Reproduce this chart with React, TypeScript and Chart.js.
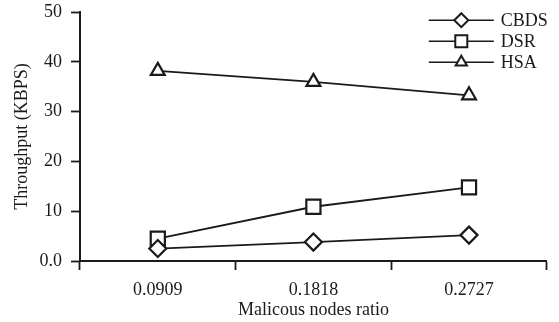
import React, { useEffect, useRef } from "react";
import { Chart, registerables } from "chart.js";
import { drawPoint } from "chart.js/helpers";

Chart.register(...registerables);

const categories = ["0.0909", "0.1818", "0.2727"];
const cbds = [2.5, 3.8, 5.2];
const dsr = [4.5, 10.9, 14.8];
const hsa = [38.2, 36.0, 33.3];
const seriesNames = ["CBDS", "DSR", "HSA"];
const yTicks = [0, 10, 20, 30, 40, 50];

const FONT = "'Liberation Serif', 'Times New Roman', serif";
const INK = "#1a1a1a";

const markerStyles: any[] = [
  { pointStyle: "rectRot", radius: 8.5 },
  { pointStyle: "rect", radius: 10 },
  { pointStyle: "triangle", radius: 8 },
];

const legendPlugin = {
  id: "lineLegend",
  afterDraw(chart: any) {
    const { ctx, chartArea } = chart;
    const right = chartArea.right;
    const x0 = right - 118;
    const x1 = right - 53;
    const xm = (x0 + x1) / 2;
    const tx = right - 46;
    ctx.save();
    chart.data.datasets.forEach((ds: any, i: number) => {
      const y = chartArea.top + 8 + i * 21;
      ctx.strokeStyle = INK;
      ctx.lineWidth = 1.6;
      ctx.beginPath();
      ctx.moveTo(x0, y);
      ctx.lineTo(x1, y);
      ctx.stroke();
      ctx.fillStyle = "#ffffff";
      ctx.lineWidth = 2;
      drawPoint(ctx, { pointStyle: ds.pointStyle, radius: ds.pointRadius - 1.5, rotation: 0, borderWidth: 2 }, xm, y);
      ctx.fillStyle = INK;
      ctx.font = `18px ${FONT}`;
      ctx.textAlign = "left";
      ctx.textBaseline = "middle";
      ctx.fillText(ds.label, tx, y + 1);
    });
    ctx.restore();
  },
};

export default function App() {
  const ref = useRef<HTMLCanvasElement | null>(null);
  useEffect(() => {
    if (!ref.current) return;
    const values = [cbds, dsr, hsa];
    const chart = new Chart(ref.current, {
      type: "line",
      data: {
        labels: categories,
        datasets: values.map((v, i) => ({
          label: seriesNames[i],
          data: v,
          borderColor: INK,
          borderWidth: 1.8,
          pointStyle: markerStyles[i].pointStyle,
          pointRadius: markerStyles[i].radius,
          pointBorderWidth: 2.2,
          pointBackgroundColor: "#ffffff",
          pointBorderColor: INK,
          tension: 0,
        })),
      },
      options: {
        responsive: false,
        animation: false,
        layout: { padding: { top: 12, right: 9, left: 0, bottom: 0 } },
        plugins: { legend: { display: false }, tooltip: { enabled: false } },
        scales: {
          x: {
            type: "category",
            offset: true,
            grid: {
              offset: true,
              drawOnChartArea: false,
              drawTicks: true,
              tickLength: 9,
              tickWidth: 1.8,
              tickColor: INK,
              color: INK,
            },
            border: { display: true, color: INK, width: 2 },
            ticks: { color: INK, font: { family: FONT, size: 18 }, padding: 9, maxRotation: 0 },
            title: {
              display: true,
              text: "Malicous nodes ratio",
              color: INK,
              font: { family: FONT, size: 18 },
              padding: { top: 0, bottom: 1 },
            },
            afterFit(scale: any) {
              scale.height = 61;
              scale.paddingLeft = 0;
              scale.paddingRight = 0;
            },
          },
          y: {
            min: 0,
            max: 50,
            afterBuildTicks(scale: any) {
              scale.ticks = yTicks.map((v) => ({ value: v }));
            },
            grid: {
              drawOnChartArea: false,
              drawTicks: true,
              tickLength: 9,
              tickWidth: 1.8,
              tickColor: INK,
              color: INK,
            },
            border: { display: true, color: INK, width: 2 },
            ticks: {
              color: INK,
              font: { family: FONT, size: 18 },
              padding: 9,
              callback: (v: any) => (Number(v) === 0 ? "0.0" : String(v)),
            },
            title: {
              display: true,
              text: "Throughput (KBPS)",
              color: INK,
              font: { family: FONT, size: 18 },
              padding: { top: 11.5, bottom: 0 },
            },
            afterFit(scale: any) {
              scale.width = 80;
              scale.paddingTop = 0;
              scale.paddingBottom = 0;
            },
          },
        },
      },
      plugins: [legendPlugin],
    } as any);
    return () => chart.destroy();
  }, []);
  return (
    <div style={{ position: "fixed", left: 0, top: 0, width: 559, height: 322, background: "#fff" }}>
      <canvas ref={ref} width={559} height={322} style={{ display: "block" }} />
    </div>
  );
}
